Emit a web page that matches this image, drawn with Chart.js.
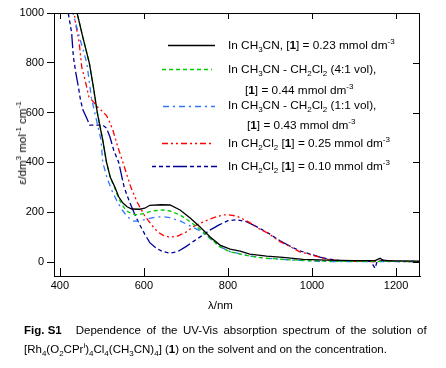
<!DOCTYPE html>
<html>
<head>
<meta charset="utf-8">
<script src="https://cdn.jsdelivr.net/npm/chart.js@4.4.1/dist/chart.umd.min.js"></script>
<style>
  html,body{margin:0;padding:0;background:#fff;}
  #wrap{position:relative;width:446px;height:368px;overflow:hidden;font-family:"Liberation Sans",Arial,sans-serif;color:#000;}
  #cv{position:absolute;left:0;top:0;}
  .t{position:absolute;white-space:nowrap;font-size:11.8px;line-height:14px;}
  sub,sup{font-size:8px;line-height:0;position:relative;vertical-align:baseline;}
  sub{top:3px;} sup{top:-5px;}
  #ytitle{position:absolute;left:22px;top:143px;transform:translate(-50%,-50%) rotate(-90deg);white-space:nowrap;font-size:11.5px;line-height:14px;}
  .cap{position:absolute;left:24px;font-size:11.5px;line-height:14px;white-space:nowrap;}
</style>
</head>
<body>
<div id="wrap">
  <canvas id="cv" width="446" height="300"></canvas>
  <div id="ytitle">ε/dm<sup>3</sup> mol<sup>-1</sup> cm<sup>-1</sup></div>
  <div class="t" style="left:208px;top:298px;font-size:11.5px;">λ/nm</div>
  <div class="t" style="left:228px;top:38px;">In CH<sub>3</sub>CN, [<b>1</b>] = 0.23 mmol dm<sup>-3</sup></div>
  <div class="t" style="left:228px;top:62px;">In CH<sub>3</sub>CN - CH<sub>2</sub>Cl<sub>2</sub> (4:1 vol),</div>
  <div class="t" style="left:245px;top:83px;">[<b>1</b>] = 0.44 mmol dm<sup>-3</sup></div>
  <div class="t" style="left:228px;top:98px;">In CH<sub>3</sub>CN - CH<sub>2</sub>Cl<sub>2</sub> (1:1 vol),</div>
  <div class="t" style="left:247px;top:118px;">[<b>1</b>] = 0.43 mmol dm<sup>-3</sup></div>
  <div class="t" style="left:228px;top:136px;">In CH<sub>2</sub>Cl<sub>2</sub> [<b>1</b>] = 0.25 mmol dm<sup>-3</sup></div>
  <div class="t" style="left:228px;top:159px;">In CH<sub>2</sub>Cl<sub>2</sub> [<b>1</b>] = 0.10 mmol dm<sup>-3</sup></div>
  <div class="cap" style="top:323px;"><b>Fig. S1</b><span style="display:inline-block;width:14px;"></span><span style="word-spacing:2.3px;">Dependence of the UV-Vis absorption spectrum of the solution of</span></div>
  <div class="cap" style="top:342px;">[Rh<sub>4</sub>(O<sub>2</sub>CPr<sup>i</sup>)<sub>4</sub>Cl<sub>4</sub>(CH<sub>3</sub>CN)<sub>4</sub>] (<b>1</b>) on the solvent and on the concentration.</div>
</div>
<script>
// ---- data (wavelength / nm, epsilon / dm3 mol-1 cm-1) ----
const xTicks = [400, 600, 800, 1000, 1200];
const yTicks = [0, 200, 400, 600, 800, 1000];

const wlMeCN = [430,441,455,470,480,489,502,511,520,531,540,550,560,571,590,602,614,640,662,686,710,733,757,781,805,829,852,892,931,979,1035,1100,1150,1162,1170,1200,1257];
const epsMeCN = [1100,1000,900,800,700,600,490,400,340,300,262,237,222,213,212,216,228,230,229,209,177,142,102,68,52,44,32,24,19,11,8,6,6,15,6,5,4];

const wl41 = [430,441,455,470,480,489,502,511,520,531,540,550,559,570,580,590,605,620,645,662,686,710,733,757,781,805,852,892,950,1000,1050,1150,1257];
const eps41 = [1100,1000,900,800,700,600,490,400,340,295,255,225,205,195,190,191,198,205,209,205,189,162,132,96,61,41,24,15,9,5,3,3,2];

const wl11 = [425,431,447,464,475,483,498,502,512,523,538,550,562,575,590,610,630,645,662,686,710,733,757,781,805,852,892,950,1000,1050,1150,1257];
const eps11 = [1080,1000,900,800,660,600,490,400,340,290,237,205,180,164,165,174,181,182,178,165,145,126,96,62,42,24,15,8,4,2,2,2];

const wlDCM25 = [425,438,446,452,460,469,479,488,495,504,511,519,526,538,550,569,585,602,618,632,645,660,680,700,717,740,757,775,788,800,820,844,860,876,895,924,950,971,1000,1019,1040,1067,1100,1150,1170,1200,1257];
const epsDCM25 = [1100,952,880,783,731,663,645,625,615,600,588,560,530,462,400,300,237,185,150,122,108,100,104,120,142,160,173,183,189,190,185,166,150,132,116,82,60,41,28,19,10,5,3,2,6,2,2];

const wlDCM10 = [410,420,428,432,438,444,449,455,464,471,490,502,511,519,528,540,553,566,580,590,602,614,630,645,662,680,700,717,740,757,780,800,820,844,876,900,924,950,971,1000,1019,1040,1067,1100,1140,1150,1155,1170,1200,1257];
const epsDCM10 = [1150,1000,920,825,759,704,651,610,577,550,550,550,538,503,450,400,300,240,185,150,112,78,55,42,36,42,62,82,108,128,150,166,170,162,135,112,85,62,45,30,20,12,6,4,3,-25,2,8,3,2];

const pts = (xs, ys) => xs.map((x, i) => ({x: x, y: ys[i]}));

const series = [
  {data: pts(wlMeCN, epsMeCN), color: '#000000', dash: [], legendY: 45, lx: [168, 215]},
  {data: pts(wl41, eps41), color: '#00cc00', dash: [4, 3], legendY: 69, lx: [162, 212]},
  {data: pts(wl11, eps11), color: '#3377ff', dash: [6, 4, 2, 4], legendY: 106, lx: [163, 215]},
  {data: pts(wlDCM25, epsDCM25), color: '#ff0000', dash: [6, 3, 2, 3, 2, 3], legendY: 143, lx: [162, 213]},
  {data: pts(wlDCM10, epsDCM10), color: '#000099', dash: [4, 3, 4, 3, 4, 3, 14, 3], legendY: 166, lx: [152, 217]}
];

const frame = {
  id: 'frame',
  afterDraw(chart) {
    const {ctx, chartArea: a, scales} = chart;
    const sx = scales.x, sy = scales.y;
    ctx.save();
    ctx.strokeStyle = '#000';
    ctx.lineWidth = 1;
    ctx.beginPath();
    ctx.moveTo(a.left, a.top + 0.5); ctx.lineTo(a.right, a.top + 0.5);
    ctx.moveTo(a.right - 0.5, a.top); ctx.lineTo(a.right - 0.5, a.bottom);
    xTicks.forEach(v => {
      const p = Math.round(sx.getPixelForValue(v)) + 0.5;
      ctx.moveTo(p, a.bottom); ctx.lineTo(p, a.bottom - 8);
      ctx.moveTo(p, a.top); ctx.lineTo(p, a.top + 6);
    });
    yTicks.forEach(v => {
      const p = Math.round(sy.getPixelForValue(v)) + 0.5;
      ctx.moveTo(a.right, p); ctx.lineTo(a.right - 7, p);
    });
    ctx.stroke();
    // legend samples
    ctx.lineWidth = 1.3;
    series.forEach(s => {
      ctx.beginPath();
      ctx.strokeStyle = s.color;
      ctx.setLineDash(s.dash);
      ctx.moveTo(s.lx[0], s.legendY + 0.5);
      ctx.lineTo(s.lx[1], s.legendY + 0.5);
      ctx.stroke();
    });
    ctx.restore();
  }
};

const tickFont = {family: '"Liberation Sans", Arial, sans-serif', size: 11};

new Chart(document.getElementById('cv'), {
  type: 'line',
  data: {
    datasets: series.map(s => ({
      data: s.data,
      borderColor: s.color,
      borderDash: s.dash,
      borderWidth: 1.3,
      pointRadius: 0,
      tension: 0,
      fill: false
    }))
  },
  options: {
    responsive: false,
    animation: false,
    layout: {padding: {top: 13, right: 26, left: 0, bottom: 0}},
    plugins: {legend: {display: false}, tooltip: {enabled: false}},
    scales: {
      x: {
        type: 'linear', min: 386, max: 1257,
        afterBuildTicks: sc => { sc.ticks = xTicks.map(v => ({value: v})); },
        afterFit: sc => { sc.height = 24; },
        ticks: {color: '#000', font: tickFont, padding: 3, maxRotation: 0, callback: v => String(v)},
        grid: {display: true, drawOnChartArea: false, drawTicks: false},
        border: {display: true, color: '#000', width: 1}
      },
      y: {
        type: 'linear', min: -56, max: 1000,
        afterBuildTicks: sc => { sc.ticks = yTicks.map(v => ({value: v})); },
        afterFit: sc => { sc.width = 54; },
        ticks: {color: '#000', font: tickFont, padding: 3, callback: v => String(v)},
        grid: {display: true, drawOnChartArea: false, drawTicks: true, tickLength: 7, color: '#000'},
        border: {display: true, color: '#000', width: 1}
      }
    }
  },
  plugins: [frame]
});
</script>
</body>
</html>
